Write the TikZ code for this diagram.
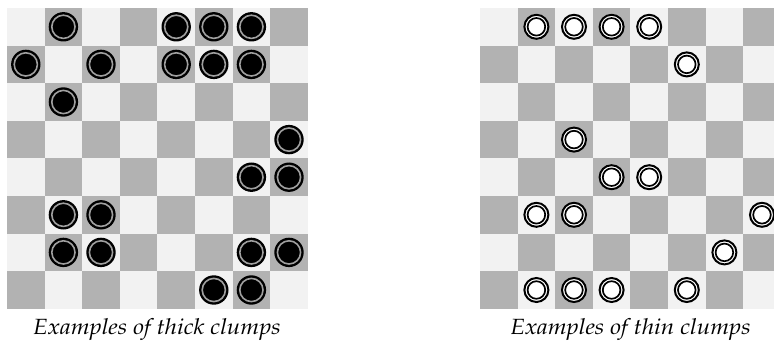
\documentclass[tikz,border=0pt]{standalone}
\usepackage[T1]{fontenc}
\renewcommand\rmdefault{ppl}
\definecolor{sqlight}{HTML}{F2F2F2}
\definecolor{sqdark}{HTML}{B2B2B2}
\definecolor{ringgray}{HTML}{A0A0A0}
\tikzset{
  blackstone/.style={circle, fill=black, draw=none, minimum size=29.4pt, inner sep=0pt,
    path picture={\draw[ringgray, line width=1.6pt] (path picture bounding box.center) circle (11.6pt);}},
  whitestone/.style={circle, fill=white, draw=black, line width=2pt, minimum size=24pt, inner sep=0pt,
    path picture={\draw[black, line width=1.7pt] (path picture bounding box.center) circle (8.8pt);}},
  caption/.style={font=\fontsize{22}{26}\selectfont\itshape, inner sep=0pt, anchor=base, xscale=1.1}
}
\begin{document}
\begin{tikzpicture}[x=1pt, y=-1pt]
  \useasboundingbox (0,0) rectangle (774,342);
  \clip (0,0) rectangle (774,342);
  \def\sq{37.6}
  % two checkerboards: left origin (7,8), right origin (480,8)
  \foreach \ox in {7, 480}{
    \foreach \r in {0,...,7}{
      \foreach \c in {0,...,7}{
        \pgfmathtruncatemacro\parity{mod(\r+\c,2)}
        \ifnum\parity=0
          \fill[sqlight] (\ox+\c*\sq, 8+\r*\sq) rectangle ++(\sq,\sq);
        \else
          \fill[sqdark] (\ox+\c*\sq, 8+\r*\sq) rectangle ++(\sq,\sq);
        \fi
      }
    }
  }
  % thick clumps (row/column)
  \foreach \r/\c in {0/1,0/4,0/5,0/6, 1/0,1/2,1/4,1/5,1/6, 2/1, 3/7, 4/6,4/7,
                     5/1,5/2, 6/1,6/2,6/6,6/7, 7/5,7/6}{
    \node[blackstone] (L-\r-\c) at (7+\c*\sq+\sq/2, 8+\r*\sq+\sq/2) {};
  }
  % thin clumps (row/column)
  \foreach \r/\c in {0/1,0/2,0/3,0/4, 1/5, 3/2, 4/3,4/4, 5/1,5/2,5/7, 6/6,
                     7/1,7/2,7/3,7/5}{
    \node[whitestone] (R-\r-\c) at (480+\c*\sq+\sq/2, 8+\r*\sq+\sq/2) {};
  }
  \node[caption] (capL) at (157, 334) {Examples of thick clumps};
  \node[caption] (capR) at (630.5, 334) {Examples of thin clumps};
\end{tikzpicture}
\end{document}
